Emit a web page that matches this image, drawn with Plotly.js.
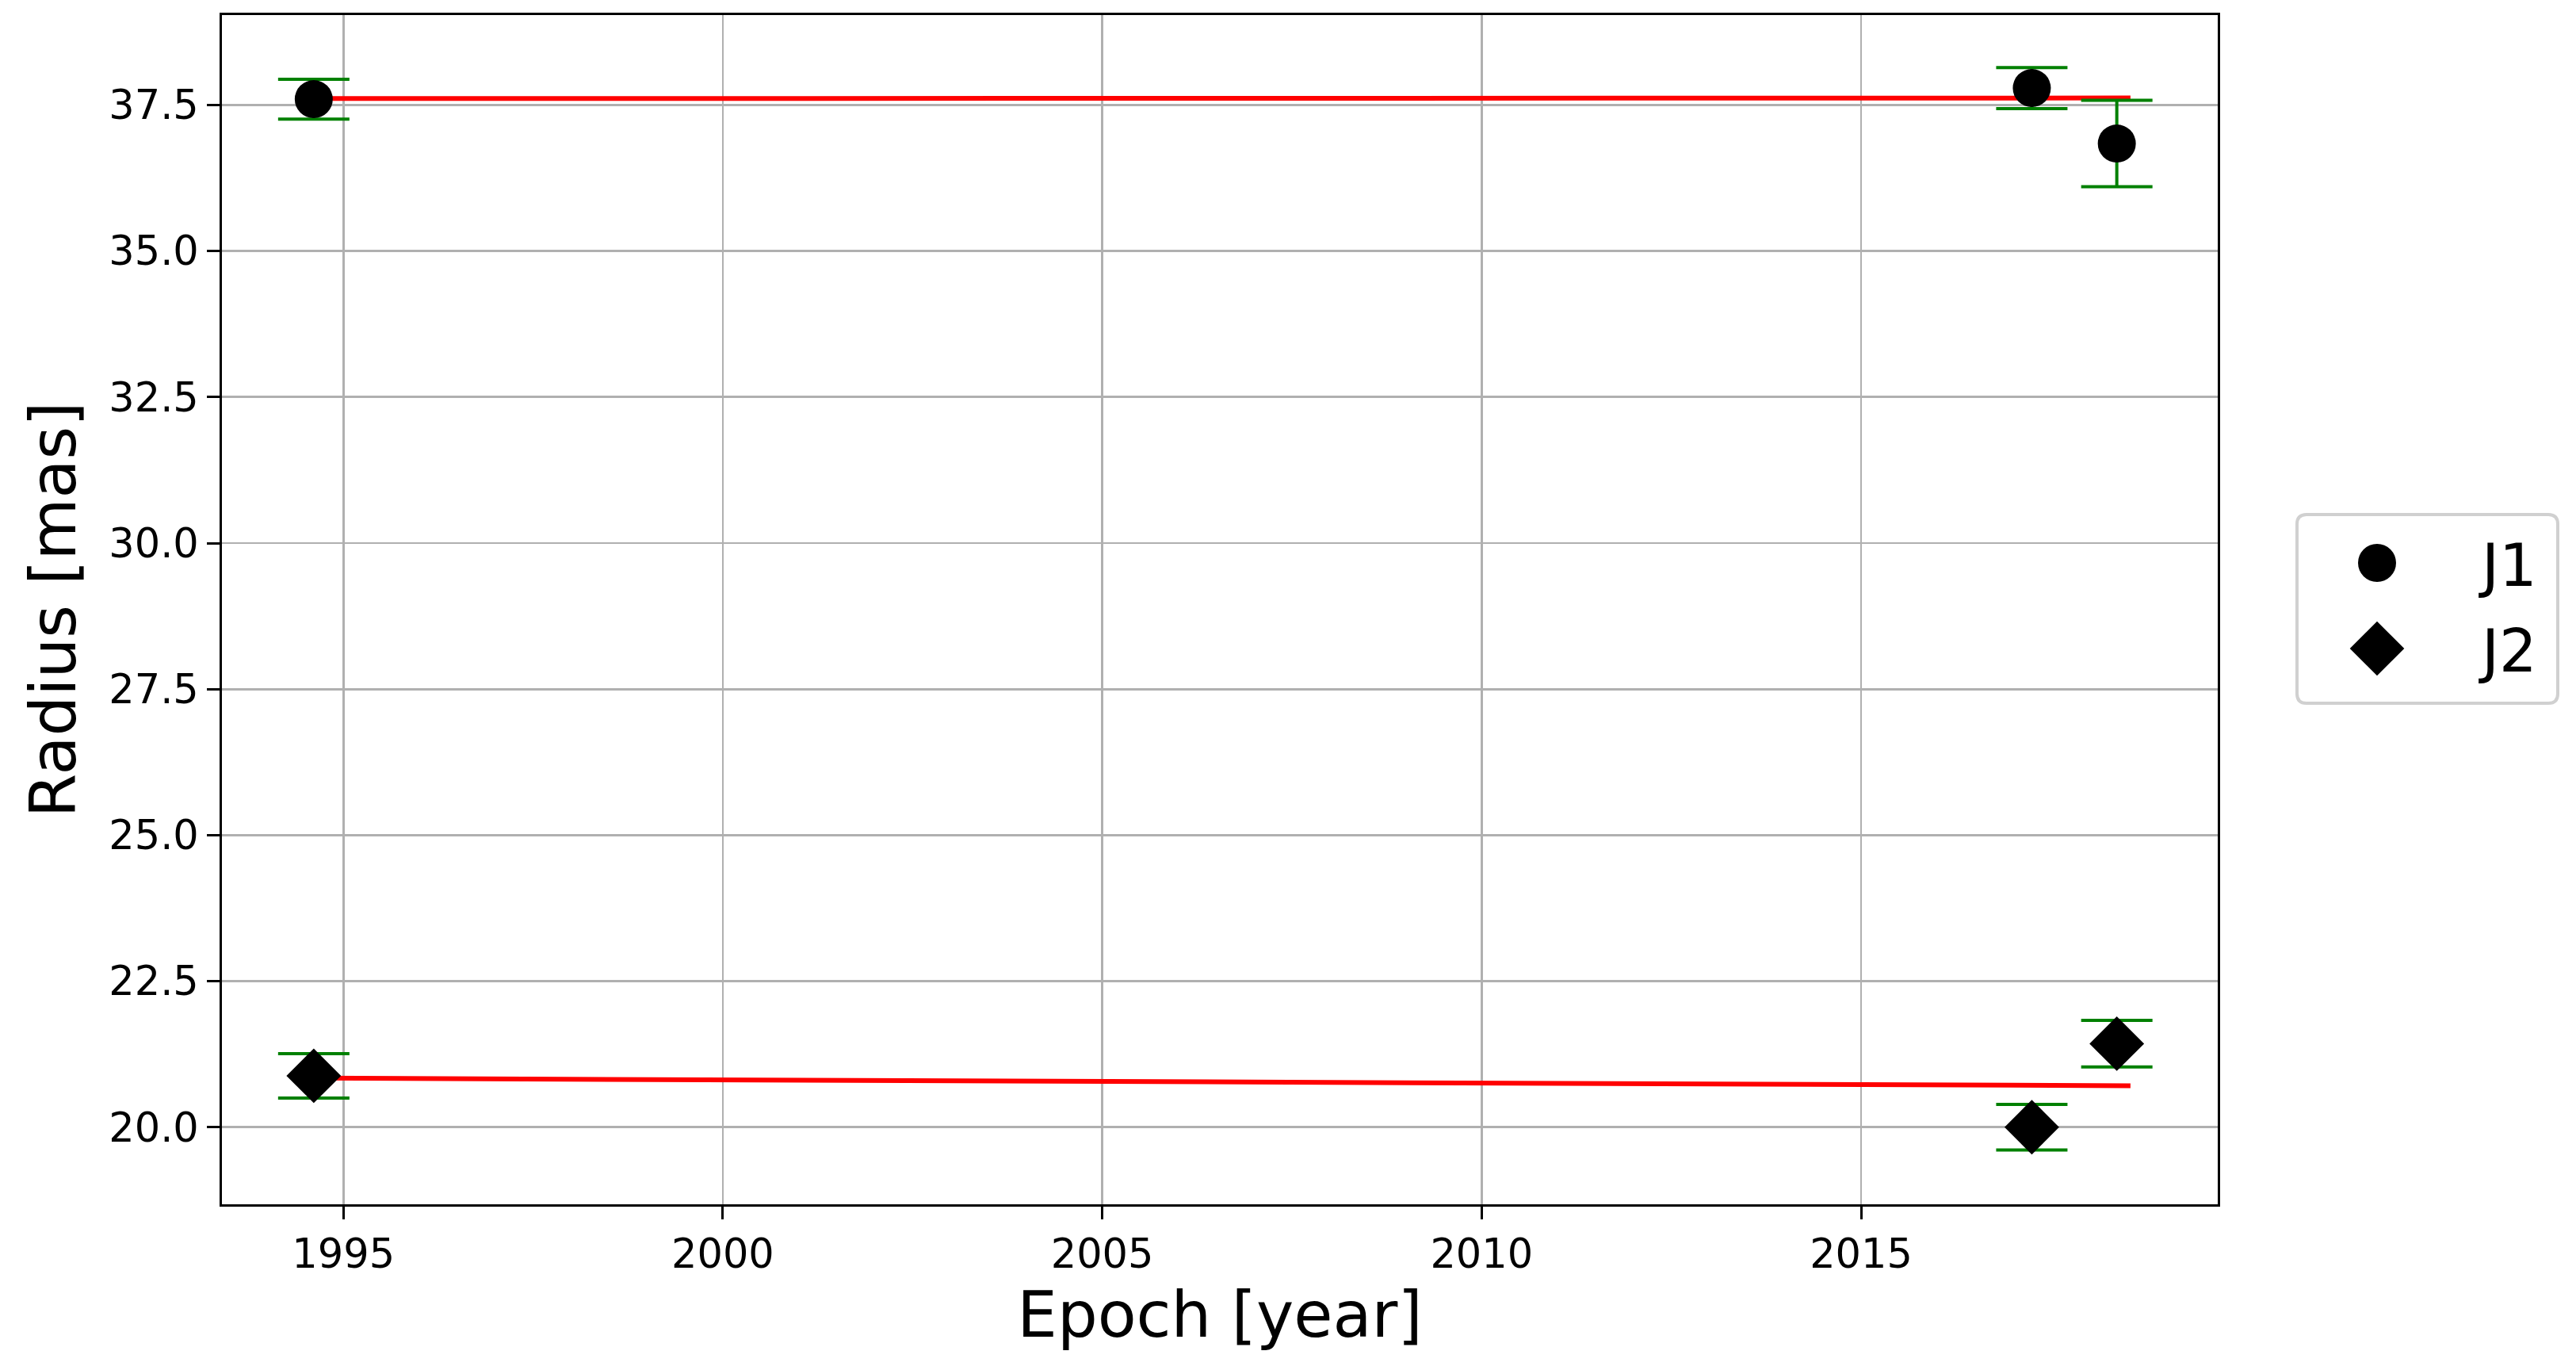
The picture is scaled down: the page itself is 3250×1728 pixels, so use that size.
<!DOCTYPE html>
<html>
<head>
<meta charset="utf-8">
<script src="https://cdn.plot.ly/plotly-3.0.1.min.js"></script>
<style>html,body{margin:0;padding:0;background:#fff;}#chart{width:3250px;height:1728px;}</style>
</head>
<body>
<div id="chart"></div>
<script>
// Data
const epochs = [1994.61, 2017.25, 2018.37];
const j1Radius = [37.60, 37.79, 36.84];
const j1Err = [0.34, 0.35, 0.74];
const j2Radius = [20.88, 20.00, 21.43];
const j2Err = [0.38, 0.39, 0.40];
const fitEpochs = [1994.61, 2018.55];
const j1Fit = [37.61, 37.62];
const j2Fit = [20.84, 20.71];
const xTicks = [1995, 2000, 2005, 2010, 2015];
const yTicks = [20.0, 22.5, 25.0, 27.5, 30.0, 32.5, 35.0, 37.5];

const FONT = 'DejaVu Sans, sans-serif';

const traces = [
  {x: fitEpochs, y: j1Fit, mode: 'lines', line: {color: '#ff0000', width: 6}, showlegend: false, hoverinfo: 'skip'},
  {x: fitEpochs, y: j2Fit, mode: 'lines', line: {color: '#ff0000', width: 6}, showlegend: false, hoverinfo: 'skip'},
  {x: epochs, y: j1Radius, name: 'J1', mode: 'markers',
   marker: {symbol: 'circle', size: 48, color: '#000000'},
   error_y: {type: 'data', array: j1Err, visible: true, color: '#008000', thickness: 4, width: 45}},
  {x: epochs, y: j2Radius, name: 'J2', mode: 'markers',
   marker: {symbol: 'diamond', size: 53, color: '#000000'},
   error_y: {type: 'data', array: j2Err, visible: true, color: '#008000', thickness: 4, width: 45}}
];

// Legend frame (matplotlib-style rounded box), in paper coordinates of the plot area
const plotL = 280, plotR = 2798, plotT = 19, plotB = 1519;
const px2x = p => (p - plotL) / (plotR - plotL);
const px2y = p => (plotB - p) / (plotB - plotT);
function roundedBox(x0, y0, x1, y1, r) {
  const X = px2x, Y = px2y;
  return 'M' + X(x0 + r) + ',' + Y(y0) +
    ' L' + X(x1 - r) + ',' + Y(y0) + ' Q' + X(x1) + ',' + Y(y0) + ' ' + X(x1) + ',' + Y(y0 + r) +
    ' L' + X(x1) + ',' + Y(y1 - r) + ' Q' + X(x1) + ',' + Y(y1) + ' ' + X(x1 - r) + ',' + Y(y1) +
    ' L' + X(x0 + r) + ',' + Y(y1) + ' Q' + X(x0) + ',' + Y(y1) + ' ' + X(x0) + ',' + Y(y1 - r) +
    ' L' + X(x0) + ',' + Y(y0 + r) + ' Q' + X(x0) + ',' + Y(y0) + ' ' + X(x0 + r) + ',' + Y(y0) + ' Z';
}

const layout = {
  width: 3250, height: 1728,
  paper_bgcolor: '#ffffff', plot_bgcolor: '#ffffff',
  margin: {l: plotL, r: 3250 - plotR, t: plotT, b: 1728 - plotB},
  font: {family: FONT, color: '#000000'},
  showlegend: true,
  legend: {
    x: 1.0397, y: 0.5007, xanchor: 'left', yanchor: 'middle',
    font: {family: FONT, size: 75, color: '#000'},
    borderwidth: 0, bgcolor: 'rgba(0,0,0,0)',
    itemsizing: 'trace', itemwidth: 220
  },
  shapes: [{
    type: 'path', xref: 'paper', yref: 'paper', layer: 'above',
    path: roundedBox(2898, 649, 3227, 887, 12),
    fillcolor: '#ffffff', line: {color: '#d0d0d0', width: 4}
  }],
  xaxis: {
    range: [1993.40, 2019.70],
    tickvals: xTicks, ticktext: xTicks.map(String),
    showgrid: true, gridcolor: '#b0b0b0', gridwidth: 2.7,
    zeroline: false,
    showline: true, linecolor: '#000', linewidth: 3, mirror: true,
    ticks: 'outside', ticklen: 16, tickwidth: 3, tickcolor: '#000',
    tickfont: {family: FONT, size: 51, color: '#000'},
    title: {text: 'Epoch [year]', font: {family: FONT, size: 80, color: '#000'}, standoff: 20},
    automargin: false
  },
  yaxis: {
    range: [18.68, 39.04],
    tickvals: yTicks, ticktext: yTicks.map(v => v.toFixed(1)),
    showgrid: true, gridcolor: '#b0b0b0', gridwidth: 2.7,
    zeroline: false,
    showline: true, linecolor: '#000', linewidth: 3, mirror: true,
    ticks: 'outside', ticklen: 16, tickwidth: 3, tickcolor: '#000',
    tickfont: {family: FONT, size: 51, color: '#000'},
    title: {text: 'Radius [mas]', font: {family: FONT, size: 80, color: '#000'}, standoff: 16},
    automargin: false
  }
};

Plotly.newPlot('chart', traces, layout, {displayModeBar: false, staticPlot: true}).then(function (gd) {
  // match the legend symbols' size and the item positions to the reference legend
  const scales = [3.0, 3.3];
  const rowY = [710, 818];
  const symX = 2999, textX = 3127;
  const base = gd.getBoundingClientRect();
  gd.querySelectorAll('.legend [clip-path]').forEach(function (el) { el.removeAttribute('clip-path'); });
  gd.querySelectorAll('.legend .traces').forEach(function (item, i) {
    const pts = item.querySelectorAll('.legendpoints path.scatterpts');
    pts.forEach(function (p) {
      const t = p.getAttribute('transform') || '';
      p.setAttribute('transform', t + ' scale(' + scales[i] + ')');
    });
    if (!pts.length) return;
    const r = pts[0].getBoundingClientRect();
    const cx = r.left + r.width / 2 - base.left;
    const cy = r.top + r.height / 2 - base.top;
    const dx = symX - cx;
    pts.forEach(function (p) {
      p.setAttribute('transform', 'translate(' + dx + ',0) ' + p.getAttribute('transform'));
    });
    const txt = item.querySelector('text.legendtext');
    if (txt) {
      const tr = txt.getBoundingClientRect();
      const shift = textX - (tr.left - base.left);
      txt.setAttribute('transform', 'translate(' + shift + ',0)');
    }
    const it = item.getAttribute('transform') || '';
    item.setAttribute('transform', it + ' translate(0,' + (rowY[i] - cy) + ')');
  });
});
</script>
</body>
</html>
